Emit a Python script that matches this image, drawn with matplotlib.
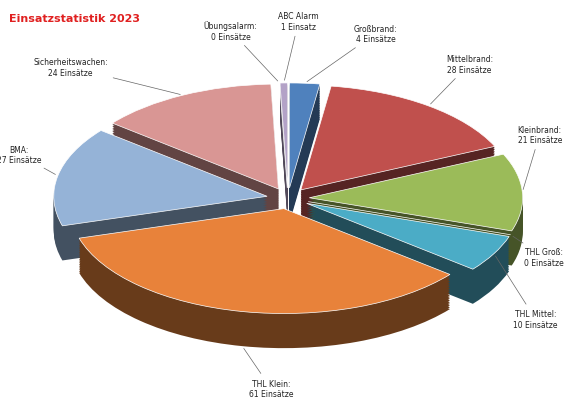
import matplotlib
matplotlib.use("Agg")
import matplotlib.pyplot as plt
import numpy as np
from matplotlib.colors import to_rgb

names = ["Großbrand", "Mittelbrand", "Kleinbrand", "THL Groß", "THL Mittel", "THL Klein", "BMA", "Sicherheitswachen", "Übungsalarm", "ABC Alarm"]
values = [4, 28, 21, 0, 10, 61, 27, 24, 0, 1]
labels = ["Großbrand:\n4 Einsätze", "Mittelbrand:\n28 Einsätze", "Kleinbrand:\n21 Einsätze", "THL Groß:\n0 Einsätze",
          "THL Mittel:\n10 Einsätze", "THL Klein:\n61 Einsätze", "BMA:\n27 Einsätze", "Sicherheitswachen:\n24 Einsätze",
          "Übungsalarm:\n0 Einsätze", "ABC Alarm\n1 Einsatz"]
colors = ["#4F81BD", "#C0504D", "#9BBB59", "#8064A2", "#4BACC6", "#E8823A", "#95B3D7", "#D99694", "#C3D69B", "#B3A2C7"]

fig = plt.figure(figsize=(5.76, 4.06), dpi=100)
ax = fig.add_axes([0, 0, 1, 1])
explode = [0.1] * len(values)
dark = [tuple(c * 0.45 for c in to_rgb(col)) for col in colors]
depth = 0.33
n = 20
for i in range(n, 0, -1):
    ax.pie(values, colors=dark, explode=explode, startangle=90, counterclock=False,
           center=(0, -depth * i / n), wedgeprops=dict(linewidth=0))
wedges, _ = ax.pie(values, colors=colors, explode=explode, startangle=90, counterclock=False,
                   wedgeprops=dict(linewidth=0.5, edgecolor="white"))
ax.set_aspect("auto")
ax.set_xlim(-1.35, 1.35)
ax.set_ylim(-1.97, 1.9)
ax.axis("off")

offsets = {0: (0.41, 1.57), 9: (0.05, 1.69), 8: (-0.27, 1.6), 7: (-1.02, 1.25), 6: (-1.26, 0.42),
           5: (-0.08, -1.81), 4: (1.16, -1.15), 3: (1.2, -0.56), 2: (1.18, 0.61), 1: (0.85, 1.28)}
for i, w in enumerate(wedges):
    a = np.deg2rad((w.theta1 + w.theta2) / 2)
    cx, cy = w.center
    px, py = cx + 1.0 * np.cos(a), cy + 1.0 * np.sin(a)
    if i == 5:
        py -= depth
    tx, ty = offsets[i]
    ax.annotate(labels[i], xy=(px, py), xytext=(tx, ty), ha="center", va="center",
                fontsize=5.5, color="#222222",
                arrowprops=dict(arrowstyle="-", color="#666666", lw=0.5))

fig.text(0.015, 0.965, "Einsatzstatistik 2023", color="#E02020", fontsize=8, fontweight="bold", va="top")
fig.savefig("out.png", dpi=100)
